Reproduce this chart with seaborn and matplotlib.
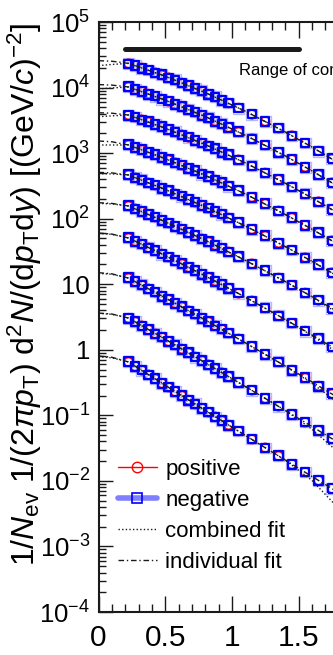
import matplotlib
matplotlib.use("Agg")
import matplotlib.pyplot as plt
import seaborn as sns
from matplotlib.lines import Line2D
from matplotlib.ticker import FixedLocator, MultipleLocator, LogLocator, NullFormatter

# ---------------- data ----------------
pt = [0.225, 0.275, 0.325, 0.375, 0.425, 0.475, 0.525, 0.575, 0.625, 0.675,
      0.725, 0.775, 0.825, 0.875, 0.925, 0.975, 1.05, 1.15, 1.25, 1.35,
      1.45, 1.55, 1.65, 1.75]

pos_0 = [23400, 21700, 20000, 18400, 16900, 15500, 14200, 13000, 11800, 10700, 9730, 8810, 7960, 7160, 6440, 5780, 4890, 3890, 3060, 2390, 1850, 1420, 1080, 813]
pos_1 = [10200, 9420, 8690, 7980, 7330, 6710, 6140, 5600, 5090, 4620, 4200, 3790, 3420, 3080, 2770, 2480, 2100, 1670, 1320, 1030, 798, 614, 468, 354]
pos_2 = [3810, 3520, 3240, 2980, 2740, 2510, 2290, 2090, 1910, 1730, 1570, 1420, 1290, 1160, 1040, 938, 794, 634, 501, 394, 307, 237, 182, 138]
pos_3 = [1330, 1220, 1120, 1030, 944, 863, 787, 716, 650, 590, 535, 482, 436, 392, 352, 316, 267, 213, 168, 132, 103, 79.1, 60.7, 46.2]
pos_4 = [463, 424, 387, 353, 322, 292, 265, 240, 218, 197, 177, 160, 144, 129, 116, 103, 87.1, 69.2, 54.4, 42.6, 33.1, 25.6, 19.6, 15.0]
pos_5 = [156, 142, 128, 116, 105, 94.6, 85.1, 76.6, 68.9, 61.8, 55.3, 49.5, 44.3, 39.4, 35.2, 31.3, 26.2, 20.6, 16.1, 12.5, 9.64, 7.40, 5.65, 4.30]
pos_6 = [50.7, 45.4, 40.6, 36.3, 32.4, 29.0, 25.8, 23.0, 20.4, 18.2, 16.1, 14.3, 12.6, 11.2, 9.89, 8.73, 7.23, 5.60, 4.33, 3.32, 2.54, 1.94, 1.47, 1.11]
pos_7 = [12.4, 11.0, 9.68, 8.53, 7.52, 6.62, 5.82, 5.13, 4.50, 3.95, 3.48, 3.05, 2.67, 2.34, 2.05, 1.79, 1.47, 1.12, 0.853, 0.649, 0.492, 0.372, 0.281, 0.212]
pos_8 = [3.05, 2.67, 2.33, 2.03, 1.77, 1.55, 1.35, 1.18, 1.03, 0.895, 0.780, 0.679, 0.592, 0.515, 0.449, 0.391, 0.317, 0.240, 0.182, 0.137, 0.103, 0.0780, 0.0588, 0.0442]
pos_9 = [0.652, 0.561, 0.484, 0.417, 0.360, 0.310, 0.267, 0.231, 0.199, 0.172, 0.148, 0.128, 0.111, 0.0955, 0.0826, 0.0713, 0.0573, 0.0429, 0.0321, 0.0240, 0.0180, 0.0136, 0.0102, 0.00766]

neg_0 = [23000, 21900, 19700, 18600, 16700, 15700, 14000, 13100, 11700, 10800, 9600, 8900, 7880, 7230, 6380, 5830, 4840, 3930, 3030, 2410, 1830, 1430, 1070, 820]
neg_1 = [10400, 9300, 8780, 7900, 7400, 6640, 6200, 5540, 5140, 4570, 4240, 3750, 3450, 3050, 2800, 2450, 2120, 1650, 1330, 1020, 806, 608, 472, 350]
neg_2 = [3770, 3550, 3210, 3010, 2710, 2530, 2270, 2110, 1890, 1750, 1550, 1430, 1280, 1170, 1030, 947, 786, 640, 496, 398, 304, 239, 180, 139]
neg_3 = [1350, 1210, 1130, 1020, 953, 855, 795, 709, 656, 584, 540, 477, 440, 388, 356, 313, 270, 211, 170, 131, 104, 78.3, 61.3, 45.7]
neg_4 = [468, 420, 391, 350, 325, 289, 268, 238, 220, 195, 179, 158, 145, 128, 117, 102, 88.0, 68.5, 54.9, 42.2, 33.4, 25.3, 19.8, 14.8]
neg_5 = [158, 140, 129, 115, 106, 93.7, 86.0, 75.8, 69.6, 61.2, 55.9, 49.0, 44.7, 39.0, 35.6, 31.0, 26.5, 20.4, 16.3, 12.4, 9.73, 7.33, 5.71, 4.26]
neg_6 = [51.2, 44.9, 41.0, 35.9, 32.7, 28.7, 26.1, 22.8, 20.6, 18.0, 16.3, 14.2, 12.7, 11.1, 10.0, 8.64, 7.30, 5.54, 4.37, 3.29, 2.57, 1.92, 1.48, 1.10]
neg_7 = [12.6, 10.9, 9.78, 8.44, 7.60, 6.55, 5.88, 5.08, 4.55, 3.91, 3.51, 3.02, 2.70, 2.32, 2.07, 1.81, 1.46, 1.13, 0.845, 0.655, 0.487, 0.376, 0.278, 0.214]
neg_8 = [3.02, 2.70, 2.30, 2.05, 1.75, 1.57, 1.33, 1.19, 1.01, 0.905, 0.772, 0.686, 0.586, 0.520, 0.444, 0.395, 0.314, 0.242, 0.180, 0.138, 0.102, 0.0788, 0.0582, 0.0446]
neg_9 = [0.665, 0.556, 0.489, 0.413, 0.364, 0.307, 0.270, 0.229, 0.201, 0.170, 0.150, 0.127, 0.112, 0.0945, 0.0834, 0.0706, 0.0579, 0.0434, 0.0318, 0.0242, 0.0178, 0.0137, 0.0101, 0.00773]

fit_pt = [0.0, 0.1, 0.225, 0.5, 0.8, 1.1, 1.4, 1.6, 1.8]

ind_0 = [25700, 25200, 23400, 14900, 8380, 4370, 2100, 1240, 705]
ind_1 = [11100, 10900, 10200, 6430, 3610, 1880, 908, 537, 307]
ind_2 = [4130, 4060, 3810, 2400, 1350, 711, 348, 208, 120]
ind_3 = [1530, 1490, 1330, 824, 458, 239, 116, 69.3, 40.2]
ind_4 = [508, 499, 463, 279, 151, 77.6, 37.6, 22.4, 13.0]
ind_5 = [175, 171, 156, 89.7, 46.8, 23.2, 11.0, 6.47, 3.73]
ind_6 = [60.3, 58.2, 50.7, 27.4, 13.4, 6.37, 2.90, 1.69, 0.964]
ind_7 = [15.0, 14.4, 12.4, 6.21, 2.85, 1.28, 0.565, 0.324, 0.184]
ind_8 = [3.63, 3.51, 3.05, 1.45, 0.634, 0.276, 0.119, 0.0676, 0.0383]
ind_9 = [0.802, 0.769, 0.652, 0.288, 0.119, 0.0495, 0.0208, 0.0117, 0.00664]

comb_0 = [21600, 22500, 23400, 14900, 8380, 4370, 2100, 1240, 705]
comb_1 = [9530, 9860, 10200, 6430, 3610, 1880, 908, 537, 307]
comb_2 = [3590, 3700, 3810, 2400, 1350, 711, 348, 208, 120]
comb_3 = [1330, 1330, 1330, 824, 458, 239, 116, 69.3, 40.2]
comb_4 = [485, 481, 463, 279, 151, 77.6, 37.6, 22.4, 13.0]
comb_5 = [171, 168, 156, 89.7, 46.8, 23.2, 11.0, 6.47, 3.56]
comb_6 = [59.6, 57.7, 50.7, 27.4, 13.4, 6.37, 2.90, 1.65, 0.879]
comb_7 = [14.6, 14.2, 12.4, 6.21, 2.85, 1.28, 0.565, 0.309, 0.153]
comb_8 = [3.59, 3.48, 3.05, 1.45, 0.634, 0.276, 0.119, 0.0617, 0.0271]
comb_9 = [0.783, 0.755, 0.652, 0.288, 0.119, 0.0495, 0.0208, 0.0102, 0.00382]

fit_range = [0.2, 1.5]
fit_range_level = 38400
fit_range_text = "Range of combined fit"

x_ticks = [0, 0.5, 1, 1.5]
x_tick_labels = ["0", "0.5", "1", "1.5"]
y_ticks = [1e-4, 1e-3, 1e-2, 1e-1, 1, 10, 1e2, 1e3, 1e4, 1e5]
y_tick_labels = [r"$10^{-4}$", r"$10^{-3}$", r"$10^{-2}$", r"$10^{-1}$", "1", "10",
                 r"$10^{2}$", r"$10^{3}$", r"$10^{4}$", r"$10^{5}$"]
legend_labels = ["positive", "negative", "combined fit", "individual fit"]
y_title = (r"$1/N_{\mathrm{ev}}\ 1/(2\pi p_{\mathrm{T}})\ \mathrm{d}^{2}N/"
           r"(\mathrm{d}p_{\mathrm{T}}\mathrm{d}y)\ [(\mathrm{GeV}/c)^{-2}]$")

positive = [pos_0, pos_1, pos_2, pos_3, pos_4, pos_5, pos_6, pos_7, pos_8, pos_9]
negative = [neg_0, neg_1, neg_2, neg_3, neg_4, neg_5, neg_6, neg_7, neg_8, neg_9]
individual = [ind_0, ind_1, ind_2, ind_3, ind_4, ind_5, ind_6, ind_7, ind_8, ind_9]
combined = [comb_0, comb_1, comb_2, comb_3, comb_4, comb_5, comb_6, comb_7, comb_8, comb_9]

# ---------------- style ----------------
sns.set_theme(style="ticks")
plt.rcParams["font.family"] = ["Liberation Sans", "DejaVu Sans"]
plt.rcParams.update({
    "mathtext.fontset": "custom",
    "mathtext.rm": "Liberation Sans",
    "mathtext.it": "Liberation Sans:italic",
    "mathtext.bf": "Liberation Sans:bold",
    "mathtext.sf": "Liberation Sans",
    "text.color": "black",
    "axes.labelcolor": "black",
    "xtick.color": "black",
    "ytick.color": "black",
    "xtick.labelcolor": "black",
    "ytick.labelcolor": "black",
})

RED = "#ff0000"
BLUE = "#0000ff"
LBLUE = "#7f7fff"
DOT = (0, (1, 1.6))
DASHDOT = (0, (4, 2, 1, 2))

fig = plt.figure(figsize=(3.33, 6.55), dpi=100)
ax = fig.add_axes([98.5 / 333, 43 / 655, 266.7 / 333, 590 / 655])
ax.set_yscale("log")

for k in range(10):
    sns.scatterplot(x=pt, y=positive[k], ax=ax, marker="o", s=40,
                    facecolors="none", edgecolor=RED, linewidth=1.1, zorder=3)
for k in range(10):
    sns.scatterplot(x=pt, y=negative[k], ax=ax, marker="s", s=60,
                    facecolors="none", edgecolor=LBLUE, linewidth=1.0, alpha=0.55, zorder=4)
    sns.scatterplot(x=pt, y=negative[k], ax=ax, marker="s", s=38,
                    facecolors="none", edgecolor=BLUE, linewidth=1.6, zorder=5)
for k in range(10):
    sns.lineplot(x=fit_pt, y=combined[k], ax=ax, color="k", lw=1.0,
                 linestyle=DOT, estimator=None, sort=False, zorder=6)
    sns.lineplot(x=fit_pt, y=individual[k], ax=ax, color="k", lw=1.0,
                 linestyle=DASHDOT, estimator=None, sort=False, zorder=7)

# range-of-combined-fit bar
sns.lineplot(x=fit_range, y=[fit_range_level, fit_range_level], ax=ax,
             color="k", lw=3.6, estimator=None, zorder=8)
ax.text(0.527, 0.917, fit_range_text, transform=ax.transAxes, fontsize=12,
        ha="left", va="center", color="black")

ax.set_xlim(0, 2.0)
ax.set_ylim(1e-4, 1e5)

ax.xaxis.set_major_locator(FixedLocator(x_ticks))
ax.set_xticklabels(x_tick_labels)
ax.xaxis.set_minor_locator(MultipleLocator(0.1))
ax.yaxis.set_major_locator(FixedLocator(y_ticks))
ax.set_yticklabels(y_tick_labels)
ax.yaxis.set_minor_locator(LogLocator(base=10, subs=[2, 3, 4, 5, 6, 7, 8, 9], numticks=20))
ax.yaxis.set_minor_formatter(NullFormatter())

ax.tick_params(axis="both", which="both", direction="in", top=True, right=True,
               color="k", width=1.0)
ax.tick_params(axis="x", which="major", length=11.5, labelsize=21.5, pad=9)
ax.tick_params(axis="x", which="minor", length=5.8)
ax.tick_params(axis="y", which="major", length=10, labelsize=18.5, pad=6)
ax.tick_params(axis="y", which="minor", length=5)
for sp in ax.spines.values():
    sp.set_color("k")
    sp.set_linewidth(1.5)
ax.set_xlabel("")
ax.set_ylabel("")

fig.text(0.074, 0.966, y_title, rotation=90, ha="center", va="top", fontsize=23)

handles = [
    Line2D([], [], color=RED, lw=1.0, marker="o", ms=7.5, mfc="none", mec=RED, mew=1.0),
    Line2D([], [], color=LBLUE, lw=4.0, marker="s", ms=7.5, mfc="none", mec=BLUE, mew=1.2),
    Line2D([], [], color="k", lw=1.0, linestyle=DOT),
    Line2D([], [], color="k", lw=1.0, linestyle=DASHDOT),
]
ax.legend(handles, legend_labels, loc="upper left", bbox_to_anchor=(0.073, 0.259),
          frameon=False, fontsize=16, handlelength=1.75, handletextpad=0.38,
          labelspacing=0.44, borderpad=0, borderaxespad=0)

fig.savefig("out.png", dpi=100)
